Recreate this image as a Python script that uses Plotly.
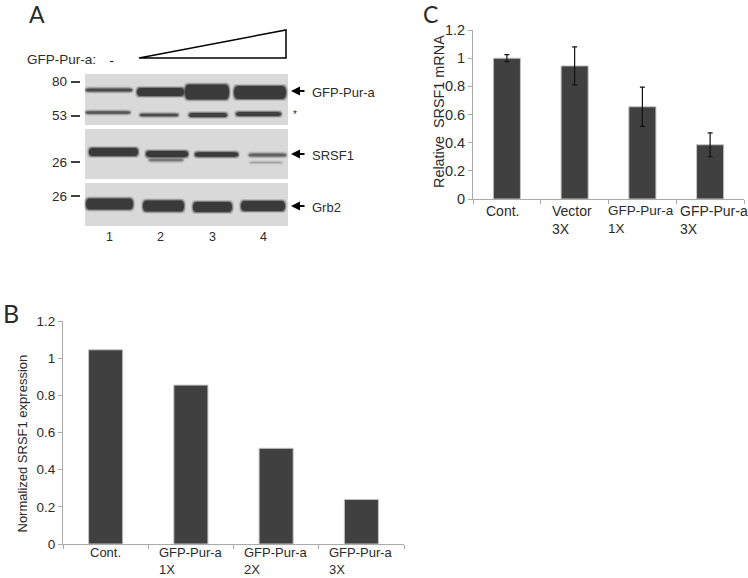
import plotly.graph_objects as go

W, H = 748, 578
FONT = "Liberation Sans"
TXT = "#2b2b2b"

# Panel B data
b_categories = ["Cont.", "GFP-Pur-a 1X", "GFP-Pur-a 2X", "GFP-Pur-a 3X"]
b_labels = ["Cont.", "GFP-Pur-a<br>1X", "GFP-Pur-a<br>2X", "GFP-Pur-a<br>3X"]
b_values = [1.045, 0.855, 0.515, 0.24]

# Panel C data
c_categories = ["Cont.", "Vector 3X", "GFP-Pur-a 1X", "GFP-Pur-a 3X"]
c_labels = ["Cont.", "Vector<br>3X", "GFP-Pur-a<br>1X", "GFP-Pur-a<br>3X"]
c_values = [1.0, 0.945, 0.655, 0.385]
c_errors = [0.025, 0.135, 0.14, 0.085]

y_ticks = [0, 0.2, 0.4, 0.6, 0.8, 1, 1.2]
y_ticktext = ["0", "0.2", "0.4", "0.6", "0.8", "1", "1.2"]

# Panel A blot, drawn as a picture (px): x0, x1, y, thickness, darkness
blot_panels = [(85, 288, 74, 125), (85, 288, 129, 179), (85, 288, 183, 226)]
blot_bands = [
    (86, 132, 90, 3, 0.8), (137, 184, 92, 8, 1), (185, 229, 92, 15, 1), (234, 286, 92.5, 13, 1),
    (86, 130, 112.5, 2.5, 0.7), (140, 178, 115, 2.5, 0.8), (189, 227, 115, 4, 0.9), (236, 281, 114, 4, 0.9),
    (89, 138, 152, 8, 1), (146, 188, 154, 6, 1), (149, 183, 160, 2.5, 0.45), (195, 238, 154.5, 4.5, 1),
    (249, 286, 155, 3, 0.6), (250, 282, 162.5, 1, 0.25),
    (86, 133, 204, 11, 1), (143, 184, 206, 11, 1), (193, 232, 207, 10, 1), (241, 285, 206, 10, 1),
]
mw_marks = [("80", 82), ("53", 116), ("26", 162), ("26", 196)]
lane_labels = [("1", 109), ("2", 160), ("3", 212), ("4", 263)]
arrows = [("GFP-Pur-a", 91), ("SRSF1", 154), ("Grb2", 206)]


def px(x):
    return x / W


def py(y):
    return 1 - y / H


fig = go.Figure()
BAR = dict(color="#404040", line=dict(color="#c4c4c4", width=1))
fig.add_trace(go.Bar(x=b_categories, y=b_values, marker=BAR, width=0.4, xaxis="x", yaxis="y"))
fig.add_trace(go.Bar(
    x=c_categories, y=c_values, marker=BAR, width=0.4, xaxis="x2", yaxis="y2",
    error_y=dict(type="data", array=c_errors, color="#111111", thickness=1.2, width=2.5),
))

axis_x = dict(
    type="category", range=[-0.5, 3.5], showgrid=False, zeroline=False, showline=True,
    linecolor="#aaaaaa", linewidth=1, ticks="outside", ticklen=4, tickcolor="#aaaaaa",
    tickson="boundaries", showticklabels=False, fixedrange=True,
)
axis_y = dict(
    range=[0, 1.2], tickvals=y_ticks, ticktext=y_ticktext, showgrid=False, zeroline=False,
    showline=True, linecolor="#aaaaaa", linewidth=1, ticks="outside", ticklen=4,
    tickcolor="#aaaaaa", fixedrange=True,
)

fig.update_layout(
    width=W, height=H, margin=dict(l=0, r=0, t=0, b=0, autoexpand=False), autosize=False,
    paper_bgcolor="white", plot_bgcolor="white", showlegend=False,
    font=dict(family=FONT, color=TXT, size=13),
    xaxis=dict(axis_x, domain=[px(63), px(404)], anchor="y"),
    yaxis=dict(axis_y, domain=[py(544), py(321)], anchor="x", tickfont=dict(size=13.5)),
    xaxis2=dict(axis_x, domain=[px(473), px(744)], anchor="y2"),
    yaxis2=dict(axis_y, domain=[py(199), py(30)], anchor="x2", tickfont=dict(size=14.5)),
)

# Blot panels, bands
for x0, x1, y0, y1 in blot_panels:
    fig.add_shape(type="rect", xref="paper", yref="paper", x0=px(x0), x1=px(x1), y0=py(y0), y1=py(y1),
                  fillcolor="#d9d9d9", line_width=0, layer="above")


def band_path(x0, x1, yc, h):
    r = min(4, (x1 - x0) / 4)
    yt, yb = py(yc - h), py(yc + h)
    m = py(yc)
    return (f"M {px(x0)} {m} Q {px(x0)} {yt} {px(x0 + r)} {yt} L {px(x1 - r)} {yt} "
            f"Q {px(x1)} {yt} {px(x1)} {m} Q {px(x1)} {yb} {px(x1 - r)} {yb} "
            f"L {px(x0 + r)} {yb} Q {px(x0)} {yb} {px(x0)} {m} Z")


for x0, x1, yc, t, d in blot_bands:
    for grow, op in ((2, 0.2), (1, 0.45), (0, 1)):
        fig.add_shape(type="path", xref="paper", yref="paper",
                      path=band_path(x0 - grow, x1 + grow, yc, t / 2 + grow),
                      fillcolor="#3a3a3a", opacity=op * d, line_width=0, layer="above")

# Triangle
fig.add_shape(type="path", xref="paper", yref="paper",
              path=f"M {px(139)} {py(58)} L {px(286)} {py(30)} L {px(286)} {py(58)} Z",
              line=dict(color="black", width=1.5), fillcolor="white", layer="above")
# Minus dash
fig.add_shape(type="line", xref="paper", yref="paper", x0=px(110), x1=px(113.5), y0=py(61.5), y1=py(61.5),
              line=dict(color="#333333", width=1.2), layer="above")


def note(text, x, y, size=13, xanchor="left", font=FONT, **kw):
    fig.add_annotation(text=text, xref="paper", yref="paper", x=px(x), y=py(y), showarrow=False,
                       xanchor=xanchor, yanchor="middle", font=dict(size=size, family=font, color=TXT), **kw)


for label, y in mw_marks:
    note(label, 69, y, size=13.5, xanchor="right")
    fig.add_shape(type="line", xref="paper", yref="paper", x0=px(71), x1=px(80), y0=py(y), y1=py(y),
                  line=dict(color="black", width=1.5), layer="above")
for label, x in lane_labels:
    note(label, x, 237, size=12.5, xanchor="center")
for label, y in arrows:
    note(label, 310, y + 1, size=13)
    fig.add_annotation(xref="paper", yref="paper", axref="pixel", ayref="pixel",
                       x=px(291), y=py(y), ax=15, ay=0, text="", showarrow=True,
                       arrowhead=2, arrowsize=1, arrowwidth=1.8, arrowcolor="black")
note("*", 291, 114, size=10)
note("GFP-Pur-a:", 25, 59, size=13.5)

# Axis titles
note("Normalized SRSF1 expression", 22, 443.5, size=13, xanchor="center", textangle=-90)
note("Relative  SRSF1 mRNA", 439, 112, size=14.4, xanchor="center", textangle=-90)

# Panel letters
note("A", 27, 14, size=23, font="Lato")
note("C", 421, 14, size=23, font="Lato")
note("B", 1, 313, size=25, font="Lato")

# Left-aligned multi-line category labels, tied to the axes
for cat, lab in zip(b_categories, b_labels):
    fig.add_annotation(text=lab, x=cat, xref="x", y=0, yref="y", yanchor="top", xanchor="center",
                       yshift=1, showarrow=False, align="left", font=dict(size=13, color=TXT, family=FONT))
for cat, lab, dx, size in zip(c_categories, c_labels, [-4, -3, -1.5, 3.5], [14, 14, 13.5, 14]):
    fig.add_annotation(text=lab, x=cat, xref="x2", y=0, yref="y2", yanchor="top", xanchor="center",
                       xshift=dx, yshift=-2, showarrow=False, align="left", font=dict(size=size, color=TXT, family=FONT))

fig.write_html("out.html", config={"displayModeBar": False},
               post_script="document.body.style.margin='0';document.body.style.overflow='hidden';window.dispatchEvent(new Event('resize'));")
